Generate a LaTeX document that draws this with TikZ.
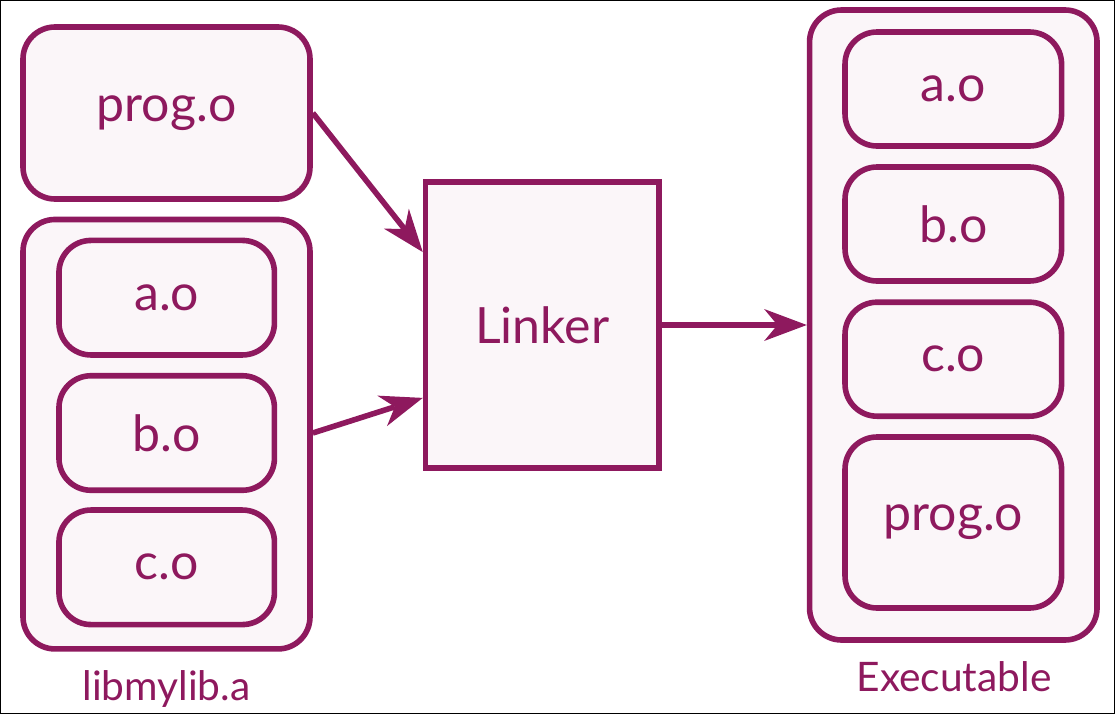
\documentclass[tikz,border=0pt]{standalone}
\usepackage{fontspec}
\setmainfont{Lato}
\usetikzlibrary{arrows.meta,calc}
\definecolor{plum}{RGB}{142,25,94}
\definecolor{plumfill}{RGB}{251,246,249}
\begin{document}
\begin{tikzpicture}[x=0.75pt,y=-0.75pt,
  box/.style={draw=plum, fill=plumfill, line width=4.2pt, rounded corners=24pt,
    inner sep=0pt, text=plum, font=\fontsize{37.5}{45}\selectfont},
  obj/.style={box, minimum width=161.6pt, minimum height=85.9pt},
  linkbox/.style={box, rounded corners=0pt, minimum width=175.1pt, minimum height=214.5pt},
  caption/.style={text=plum, inner sep=0pt, anchor=base, font=\fontsize{30.5}{36}\selectfont},
  arr/.style={draw=plum, line width=4.2pt,
    -{Stealth[length=32pt,width=24pt,inset=10pt,line width=0pt]}}]
\useasboundingbox (0,0) rectangle (1115,714);
\draw[black, line width=0.9pt] (0.6,0.6) rectangle (1114.4,713.4);

% left side
\node[box, minimum width=215.25pt, minimum height=129pt] (prog) at (166.5,113) {prog.o};
\node[box, minimum width=215.25pt, minimum height=322.1pt] (lib) at (166.5,434.2) {};
\node[obj] (la) at (166.7,297.7) {a.o};
\node[obj] (lb) at (166.7,433) {b.o};
\node[obj] (lc) at (166.7,567.3) {c.o};
\node[caption] (libcap) at (166.5,700) {libmylib.a};

% linker
\node[linkbox] (linker) at (542.3,325) {Linker};

% executable
\node[box, minimum width=215.6pt, minimum height=472.5pt] (exe) at (953.3,325) {};
\node[obj, minimum width=162.4pt, minimum height=85.5pt] (ea) at (953.3,89) {a.o};
\node[obj, minimum width=162.4pt, minimum height=85.5pt] (eb) at (953.3,224) {b.o};
\node[obj, minimum width=162.4pt, minimum height=85.5pt] (ec) at (953.3,359.2) {c.o};
\node[obj, minimum width=162.4pt, minimum height=128.25pt] (ep) at (953.3,522.5) {prog.o};
\node[caption] (execap) at (954,691.7) {Executable};

% connectors
\draw[arr] (prog.east) -- ($(linker.north west)!0.25!(linker.south west)$);
\draw[arr] (lib.east |- lb.center) -- ($(linker.north west)!0.75!(linker.south west)$);
\draw[arr] (linker.east) -- (exe.west);
\end{tikzpicture}
\end{document}
